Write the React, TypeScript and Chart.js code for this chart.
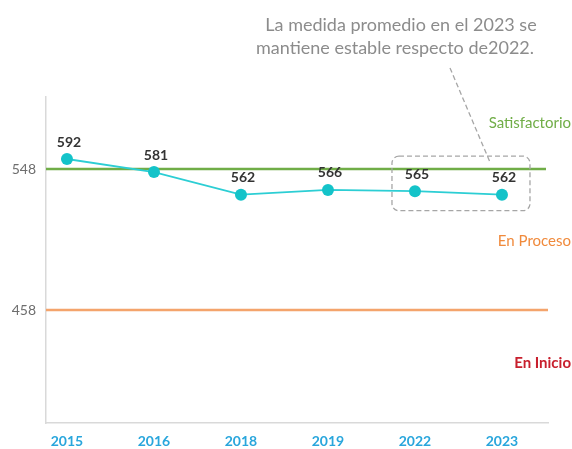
import React, { useEffect, useRef } from "react";
import { Chart, registerables } from "chart.js";

Chart.register(...registerables);

const years = ["2015", "2016", "2018", "2019", "2022", "2023"];
const averageScores = [592, 581, 562, 566, 565, 562];
const thresholdValues = [548, 458];
const thresholdColors = ["#70AD47", "#F4A46C"];
const zoneLabels = ["Satisfactorio", "En Proceso", "En Inicio"];
const zoneColors = ["#70AD47", "#F08A3C", "#C8202E"];
const zoneWeights = ["normal", "normal", "bold"];
const noteLines = ["La medida promedio en el 2023 se", "mantiene estable respecto de2022."];

const FONT = "Lato, 'Open Sans', sans-serif";

export default function App() {
  const ref = useRef<HTMLCanvasElement | null>(null);

  useEffect(() => {
    if (!ref.current) return;

    const overlay = {
      id: "overlay",
      beforeDatasetsDraw(chart: any) {
        const { ctx, chartArea } = chart;
        const y2 = chart.scales.y2;
        ctx.save();
        thresholdValues.forEach((v, i) => {
          const py = y2.getPixelForValue(v);
          ctx.strokeStyle = thresholdColors[i];
          ctx.lineWidth = 2.5;
          ctx.beginPath();
          ctx.moveTo(chartArea.left, py);
          ctx.lineTo(chartArea.right - (i === 0 ? 2 : 0), py);
          ctx.stroke();
        });
        ctx.restore();
      },
      afterDatasetsDraw(chart: any) {
        const { ctx, chartArea } = chart;
        const y2 = chart.scales.y2;
        const pts = chart.getDatasetMeta(0).data;
        ctx.save();
        // data labels
        ctx.font = `bold 14px ${FONT}`;
        ctx.fillStyle = "#333333";
        ctx.textAlign = "center";
        ctx.textBaseline = "middle";
        pts.forEach((p: any, i: number) => {
          ctx.fillText(String(averageScores[i]), p.x + 2, p.y - 17);
        });
        // zone labels
        const t0 = y2.getPixelForValue(thresholdValues[0]);
        const t1 = y2.getPixelForValue(thresholdValues[1]);
        const zoneY = [
          (chartArea.top + t0) / 2 - 10,
          (t0 + t1) / 2 + 2,
          (t1 + chartArea.bottom) / 2 - 3,
        ];
        ctx.textAlign = "right";
        zoneLabels.forEach((lbl, i) => {
          ctx.font = `${zoneWeights[i]} 15px ${FONT}`;
          ctx.fillStyle = zoneColors[i];
          ctx.fillText(lbl, 571, zoneY[i]);
        });
        // note text
        ctx.font = `18px ${FONT}`;
        ctx.fillStyle = "#8C8C8C";
        ctx.textAlign = "center";
        ctx.fillText(noteLines[0], 401, 25);
        ctx.fillText(noteLines[1], 395, 48);
        // dashed box around the last two points
        const a = pts[4];
        const b = pts[5];
        const left = a.x - 23;
        const right = b.x + 28;
        const top = Math.min(a.y, b.y) - 35;
        const bottom = Math.max(a.y, b.y) + 16;
        ctx.strokeStyle = "#A6A6A6";
        ctx.lineWidth = 1.3;
        ctx.setLineDash([5, 3]);
        ctx.beginPath();
        (ctx as any).roundRect(left, top, right - left, bottom - top, 7);
        ctx.stroke();
        // connector
        ctx.beginPath();
        ctx.moveTo(450, 68);
        ctx.lineTo(right - 40, top + 6);
        ctx.stroke();
        ctx.restore();
      },
    };

    const chart = new Chart(ref.current, {
      type: "line",
      data: {
        datasets: [
          {
            data: averageScores.map((v, i) => ({ x: i, y: v })),
            borderColor: "#2CCED4",
            backgroundColor: "#14C3C9",
            borderWidth: 1.8,
            pointRadius: 6,
            pointBorderWidth: 0,
            yAxisID: "y",
          },
        ],
      },
      options: {
        animation: false,
        responsive: false,
        layout: { padding: { top: 97, right: 24, left: 0, bottom: 0 } },
        plugins: { legend: { display: false }, tooltip: { enabled: false } },
        scales: {
          x: {
            type: "linear",
            min: -0.241,
            max: 5.529,
            grid: { display: false, drawTicks: false },
            border: { display: true, color: "#D9D9D9", width: 1.5 },
            afterBuildTicks: (s: any) => {
              s.ticks = years.map((_, i) => ({ value: i }));
            },
            afterFit: (s: any) => {
              s.height = 26;
            },
            ticks: {
              padding: 10,
              color: "#29A6DC",
              font: { family: FONT, size: 14, weight: "bold" },
              callback: (v: any) => years[v] ?? "",
              maxRotation: 0,
              autoSkip: false,
            },
          },
          y: {
            display: false,
            min: 370.2,
            max: 644.1,
          },
          y2: {
            position: "left",
            min: 385.87,
            max: 593.96,
            grid: { display: false, drawTicks: false },
            border: { display: true, color: "#D9D9D9", width: 1.5 },
            afterBuildTicks: (s: any) => {
              s.ticks = thresholdValues.map((v) => ({ value: v }));
            },
            afterFit: (s: any) => {
              s.width = 46;
            },
            ticks: {
              padding: 10,
              color: "#6E6E6E",
              font: { family: FONT, size: 14 },
              callback: (v: any) => String(v),
            },
          },
        },
      },
      plugins: [overlay],
    });
    return () => chart.destroy();
  }, []);

  return (
    <div style={{ position: "fixed", left: 0, top: 0, width: 572, height: 449, background: "#fff" }}>
      <canvas ref={ref} width={572} height={449} style={{ display: "block" }} />
    </div>
  );
}
